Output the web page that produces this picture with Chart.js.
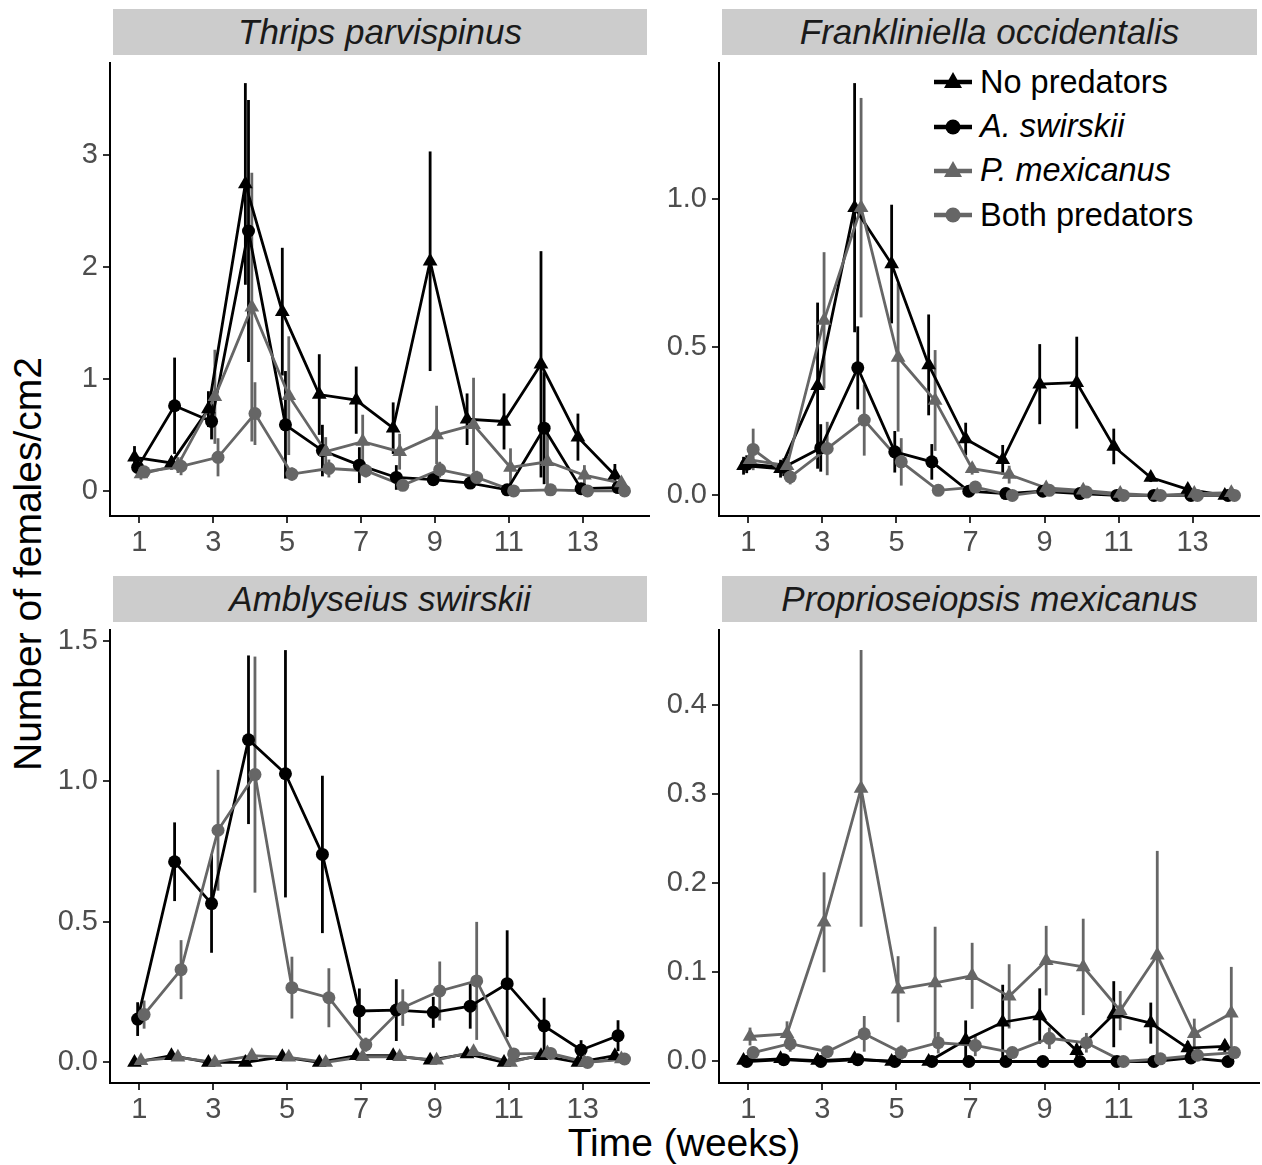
<!DOCTYPE html>
<html>
<head>
<meta charset="utf-8">
<script src="https://cdn.jsdelivr.net/npm/chart.js@4.4.1/dist/chart.umd.min.js"></script>
<style>
  body { margin: 0; background: #fff; width: 1262px; height: 1165px; position: relative; overflow: hidden;
         font-family: "Liberation Sans", Arial, Helvetica, sans-serif; }
  .wrap { position: absolute; }
  .strip { position: absolute; background: #cccccc; color: #1a1a1a; font-style: italic; font-size: 35px;
           display: flex; align-items: center; justify-content: center; }
  .ytitle { position: absolute; left: 28px; top: 564px; transform: translate(-50%, -50%) rotate(-90deg);
            font-size: 39px; white-space: nowrap; color: #000; }
  .xtitle { position: absolute; left: 684px; top: 1143px; transform: translate(-50%, -50%);
            font-size: 39px; white-space: nowrap; color: #000; }
  .legend { position: absolute; left: 932px; top: 60px; }
  .legend .item { height: 44.4px; display: flex; align-items: center; font-size: 32.5px; color: #000; }
  .legend svg { margin-right: 6px; }
</style>
</head>
<body>
<div class="ytitle">Number of females/cm2</div>
<div class="xtitle">Time (weeks)</div>
<div class="legend" id="legend"></div>
<script>
const weeks = [1, 2, 3, 4, 5, 6, 7, 8, 9, 10, 11, 12, 13, 14];
const xTicks = [1, 3, 5, 7, 9, 11, 13];

const seriesNames = ["No predators", "A. swirskii", "P. mexicanus", "Both predators"];
const seriesItalic = [false, true, true, false];
const seriesColors = ["#000000", "#000000", "#666666", "#666666"];
const seriesShapes = ["triangle", "circle", "triangle", "circle"];
const dodge = [-0.13, -0.045, 0.045, 0.13]; // position_dodge offsets

// Thrips parvispinus
const tpNone   = [0.30, 0.25, 0.73, 2.74, 1.60, 0.86, 0.81, 0.56, 2.05, 0.64, 0.62, 1.13, 0.48, 0.14];
const tpNoneSe = [0.10, 0.06, 0.16, 0.90, 0.57, 0.36, 0.30, 0.23, 0.98, 0.23, 0.25, 1.01, 0.21, 0.10];
const tpSw     = [0.21, 0.76, 0.62, 2.32, 0.59, 0.36, 0.23, 0.12, 0.10, 0.07, 0.01, 0.56, 0.02, 0.03];
const tpSwSe   = [0.08, 0.43, 0.16, 1.17, 0.48, 0.23, 0.16, 0.11, 0.04, 0.05, 0.01, 0.50, 0.02, 0.02];
const tpMex    = [0.15, 0.23, 0.84, 1.64, 0.85, 0.35, 0.44, 0.35, 0.50, 0.59, 0.21, 0.26, 0.14, 0.07];
const tpMexSe  = [0.05, 0.07, 0.42, 1.20, 0.53, 0.13, 0.24, 0.16, 0.26, 0.42, 0.17, 0.30, 0.09, 0.04];
const tpBoth   = [0.17, 0.22, 0.30, 0.69, 0.15, 0.20, 0.18, 0.05, 0.19, 0.12, 0.00, 0.01, 0.00, 0.00];
const tpBothSe = [0.04, 0.08, 0.17, 0.28, 0.06, 0.08, 0.06, 0.03, 0.07, 0.06, 0.01, 0.01, 0.00, 0.00];

// Frankliniella occidentalis
const foNone   = [0.10, 0.09, 0.37, 0.97, 0.78, 0.44, 0.19, 0.12, 0.375, 0.38, 0.165, 0.06, 0.02, 0.00];
const foNoneSe = [0.03, 0.03, 0.28, 0.42, 0.20, 0.17, 0.055, 0.05, 0.135, 0.155, 0.06, 0.015, 0.01, 0.00];
const foSw     = [0.105, 0.095, 0.16, 0.43, 0.147, 0.113, 0.014, 0.006, 0.014, 0.006, 0, 0, 0, 0];
const foSwSe   = [0.03, 0.03, 0.08, 0.14, 0.07, 0.06, 0.005, 0.004, 0.005, 0.004, 0, 0, 0, 0];
const foMex    = [0.12, 0.10, 0.59, 0.97, 0.465, 0.32, 0.09, 0.07, 0.025, 0.017, 0.006, 0, 0.006, 0.009];
const foMexSe  = [0.03, 0.03, 0.23, 0.37, 0.25, 0.17, 0.02, 0.03, 0.008, 0.006, 0.004, 0, 0.004, 0.004];
const foBoth   = [0.155, 0.062, 0.158, 0.254, 0.113, 0.017, 0.028, 0.0, 0.017, 0.011, 0, 0, 0, 0];
const foBothSe = [0.07, 0.025, 0.09, 0.12, 0.08, 0.006, 0.008, 0.0, 0.006, 0.005, 0, 0, 0, 0];

// Amblyseius swirskii
const asNone   = [0, 0.024, 0, 0, 0.02, 0, 0.024, 0.024, 0.008, 0.03, 0, 0.024, 0, 0.024];
const asNoneSe = [0, 0.01, 0, 0, 0.01, 0, 0.008, 0.008, 0.005, 0.01, 0, 0.01, 0, 0.01];
const asSw     = [0.154, 0.714, 0.565, 1.148, 1.027, 0.74, 0.183, 0.186, 0.178, 0.20, 0.28, 0.13, 0.044, 0.095];
const asSwSe   = [0.06, 0.14, 0.175, 0.30, 0.44, 0.28, 0.08, 0.11, 0.055, 0.08, 0.19, 0.10, 0.035, 0.055];
const asMex    = [0.006, 0.018, 0, 0.024, 0.018, 0, 0.02, 0.02, 0.008, 0.038, 0, 0.033, 0, 0.012];
const asMexSe  = [0.004, 0.008, 0, 0.01, 0.008, 0, 0.008, 0.008, 0.005, 0.012, 0, 0.012, 0, 0.006];
const asBoth   = [0.17, 0.33, 0.826, 1.024, 0.266, 0.23, 0.063, 0.195, 0.254, 0.29, 0.03, 0.032, 0.0, 0.012];
const asBothSe = [0.05, 0.105, 0.215, 0.42, 0.11, 0.105, 0.025, 0.065, 0.105, 0.21, 0.02, 0.02, 0.0, 0.01];

// Proprioseiopsis mexicanus
const pmNone   = [0.001, 0.003, 0.001, 0.003, 0, 0, 0.024, 0.044, 0.051, 0.012, 0.053, 0.043, 0.015, 0.017];
const pmNoneSe = [0.001, 0.002, 0.001, 0.002, 0, 0, 0.022, 0.042, 0.031, 0.008, 0.037, 0.023, 0.008, 0.007];
const pmSw     = [0, 0.002, 0, 0.002, 0, 0, 0, 0, 0, 0, 0, 0, 0.004, 0];
const pmSwSe   = [0, 0.001, 0, 0.001, 0, 0, 0, 0, 0, 0, 0, 0, 0.002, 0];
const pmMex    = [0.028, 0.031, 0.156, 0.306, 0.081, 0.088, 0.096, 0.073, 0.113, 0.106, 0.057, 0.119, 0.031, 0.054];
const pmMexSe  = [0.01, 0.014, 0.056, 0.155, 0.037, 0.063, 0.037, 0.036, 0.039, 0.054, 0.022, 0.117, 0.017, 0.052];
const pmBoth   = [0.010, 0.020, 0.011, 0.031, 0.010, 0.021, 0.018, 0.010, 0.026, 0.021, 0.0, 0.003, 0.007, 0.010];
const pmBothSe = [0.007, 0.009, 0.006, 0.02, 0.008, 0.012, 0.012, 0.005, 0.012, 0.011, 0.001, 0.002, 0.003, 0.004];

const panels = [
  { title: "Thrips parvispinus", left: 110, top: 60, right: 649, bottom: 516,
    yTicks: [0, 1, 2, 3], yLabels: ["0", "1", "2", "3"],
    means: [tpNone, tpSw, tpMex, tpBoth], ses: [tpNoneSe, tpSwSe, tpMexSe, tpBothSe] },
  { title: "Frankliniella occidentalis", left: 719, top: 60, right: 1259, bottom: 516,
    yTicks: [0, 0.5, 1], yLabels: ["0.0", "0.5", "1.0"],
    means: [foNone, foSw, foMex, foBoth], ses: [foNoneSe, foSwSe, foMexSe, foBothSe] },
  { title: "Amblyseius swirskii", left: 110, top: 627, right: 649, bottom: 1083,
    yTicks: [0, 0.5, 1, 1.5], yLabels: ["0.0", "0.5", "1.0", "1.5"],
    means: [asNone, asSw, asMex, asBoth], ses: [asNoneSe, asSwSe, asMexSe, asBothSe] },
  { title: "Proprioseiopsis mexicanus", left: 719, top: 627, right: 1259, bottom: 1083,
    yTicks: [0, 0.1, 0.2, 0.3, 0.4], yLabels: ["0.0", "0.1", "0.2", "0.3", "0.4"],
    means: [pmNone, pmSw, pmMex, pmBoth], ses: [pmNoneSe, pmSwSe, pmMexSe, pmBothSe] },
];

const FONT = '"Liberation Sans", Arial, Helvetica, sans-serif';

// vertical error bars (mean +/- se), drawn under the lines
const errorBars = {
  id: "errorBars",
  beforeDatasetsDraw(chart, args, opts) {
    const { ctx, scales: { x, y } } = chart;
    ctx.save();
    ctx.lineWidth = 2.8;
    opts.means.forEach((m, k) => {
      ctx.strokeStyle = seriesColors[k];
      m.forEach((v, i) => {
        const se = opts.ses[k][i];
        if (se <= 0) return;
        const px = x.getPixelForValue(weeks[i] + dodge[k]);
        ctx.beginPath();
        ctx.moveTo(px, y.getPixelForValue(v - se));
        ctx.lineTo(px, y.getPixelForValue(v + se));
        ctx.stroke();
      });
    });
    ctx.restore();
  },
};

const padL = 80, padR = 12, padT = 6, padB = 60;

// drop chart.js' extra room for edge tick labels so the plot box sits where it should
const noEdgePadding = (s) => { s.paddingTop = 0; s.paddingBottom = 0; s.paddingLeft = 0; s.paddingRight = 0; };

panels.forEach((p) => {
  const w = p.right - p.left + padL + padR;
  const h = p.bottom - p.top + padT + padB;
  const wrap = document.createElement("div");
  wrap.className = "wrap";
  wrap.style.left = (p.left - padL) + "px";
  wrap.style.top = (p.top - padT) + "px";
  const canvas = document.createElement("canvas");
  canvas.width = w;
  canvas.height = h;
  wrap.appendChild(canvas);
  document.body.appendChild(wrap);

  const strip = document.createElement("div");
  strip.className = "strip";
  strip.textContent = p.title;
  strip.style.left = (p.left + 3) + "px";
  strip.style.width = (p.right - p.left - 5) + "px";
  strip.style.top = (p.top - 51) + "px";
  strip.style.height = "46px";
  document.body.appendChild(strip);

  // ggplot-style 5% expansion of the data range
  let lo = 0, hi = 0;
  p.means.forEach((m, k) => m.forEach((v, i) => {
    lo = Math.min(lo, v - p.ses[k][i]);
    hi = Math.max(hi, v + p.ses[k][i]);
  }));
  const span = hi - lo;
  const xLo = weeks[0] + dodge[0], xHi = weeks[weeks.length - 1] + dodge[dodge.length - 1];
  const xSpan = xHi - xLo;

  const datasets = [];
  for (let k = p.means.length - 1; k >= 0; k--) {
    const pts = weeks.map((wk, i) => ({ x: wk + dodge[k], y: p.means[k][i] }));
    datasets.push({
      data: pts, borderColor: seriesColors[k], borderWidth: 2.8, pointRadius: 0,
      fill: false, tension: 0, order: 3,
    });
  }
  for (let k = p.means.length - 1; k >= 0; k--) {
    const pts = weeks.map((wk, i) => ({ x: wk + dodge[k], y: p.means[k][i] }));
    const tri = seriesShapes[k] === "triangle";
    datasets.push({
      data: pts, showLine: false, pointStyle: seriesShapes[k],
      pointRadius: tri ? 8.5 : 6.5, pointBackgroundColor: seriesColors[k],
      pointBorderColor: seriesColors[k], pointBorderWidth: 0, order: 2,
    });
  }

  new Chart(canvas.getContext("2d"), {
    type: "line",
    data: { datasets },
    plugins: [errorBars],
    options: {
      responsive: false,
      animation: false,
      events: [],
      layout: { padding: { left: 0, right: padR, top: padT, bottom: 0 } },
      plugins: {
        legend: { display: false },
        tooltip: { enabled: false },
        errorBars: { means: p.means, ses: p.ses },
      },
      scales: {
        x: {
          type: "linear",
          min: xLo - 0.05 * xSpan,
          max: xHi + 0.05 * xSpan,
          afterBuildTicks: (s) => { s.ticks = xTicks.map((v) => ({ value: v })); },
          afterFit: (s) => { s.height = padB; noEdgePadding(s); },
          ticks: {
            autoSkip: false, maxRotation: 0, padding: 3, color: "#4d4d4d",
            font: { size: 29, family: FONT },
            callback: (v) => String(v),
          },
          grid: { drawOnChartArea: false, drawTicks: true, tickLength: 7, color: "#333333", lineWidth: 2 },
          border: { display: true, color: "#000000", width: 2 },
        },
        y: {
          type: "linear",
          min: lo - 0.05 * span,
          max: hi + 0.05 * span,
          afterBuildTicks: (s) => { s.ticks = p.yTicks.map((v) => ({ value: v })); },
          afterFit: (s) => { s.width = padL; noEdgePadding(s); },
          ticks: {
            autoSkip: false, padding: 5, color: "#4d4d4d",
            font: { size: 29, family: FONT },
            callback: (v, i) => p.yLabels[i],
          },
          grid: { drawOnChartArea: false, drawTicks: true, tickLength: 7, color: "#333333", lineWidth: 2 },
          border: { display: true, color: "#000000", width: 2 },
        },
      },
    },
  });
});

// legend inside the Frankliniella panel
const legend = document.getElementById("legend");
seriesNames.forEach((name, k) => {
  const item = document.createElement("div");
  item.className = "item";
  const c = seriesColors[k];
  const mark = seriesShapes[k] === "triangle"
    ? `<polygon points="21,6 30,22 12,22" fill="${c}"/>`
    : `<circle cx="21" cy="16" r="7.5" fill="${c}"/>`;
  item.innerHTML = `<svg width="42" height="32" viewBox="0 0 42 32">
      <line x1="2" y1="16" x2="40" y2="16" stroke="${c}" stroke-width="4.5"/>${mark}</svg>`;
  const label = document.createElement("span");
  label.textContent = name;
  if (seriesItalic[k]) label.style.fontStyle = "italic";
  item.appendChild(label);
  legend.appendChild(item);
});
</script>
</body>
</html>
